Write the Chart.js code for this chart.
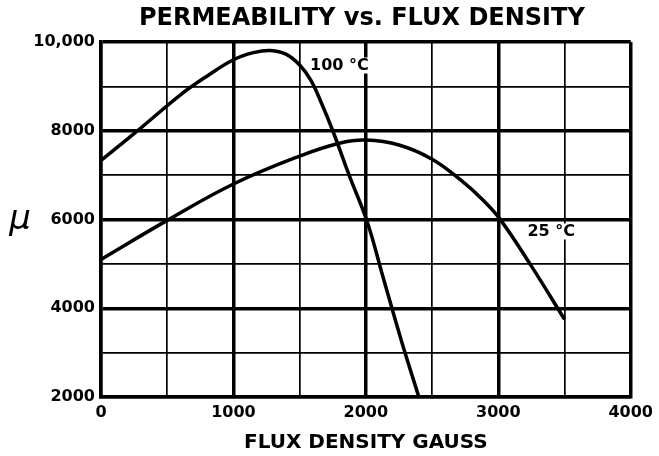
<!DOCTYPE html>
<html>
<head>
<meta charset="utf-8">
<script src="https://cdn.jsdelivr.net/npm/chart.js@4/dist/chart.umd.min.js"></script>
<style>
    html, body { margin: 0; padding: 0; background: #fff; }
</style>
</head>
<body>
<canvas id="mu-chart" width="659" height="456"></canvas>
<script>
// values (flux density in gauss, permeability)
const flux100 = [0, 300, 600, 800, 1000, 1150, 1280, 1400, 1500, 1584, 1665, 1750, 1880, 2010, 2130, 2270, 2400];
const mu100 = [7330, 8060, 8810, 9230, 9600, 9760, 9810, 9720, 9480, 9140, 8620, 8000, 6950, 5950, 4700, 3250, 2000];

const flux25 = [0, 500, 1000, 1500, 1800, 2000, 2250, 2500, 2720, 2880, 3010, 3250, 3500];
const mu25 = [5100, 5980, 6800, 7430, 7720, 7790, 7680, 7360, 6880, 6450, 6020, 4950, 3750];

const xTickValues = [0, 1000, 2000, 3000, 4000];
const xTickLabels = ['0', '1000', '2000', '3000', '4000'];
const yTickValues = [2000, 4000, 6000, 8000, 10000];
const yTickLabels = ['2000', '4000', '6000', '8000', '10,000'];

const curveNames = ['100 °C', '25 °C'];
const curveLabelFlux = [1800, 3400];
const curveLabelMu = [9470, 5730];

const chartTitle = 'PERMEABILITY vs. FLUX DENSITY';

function toPoints(xs, ys) {
    return xs.map((v, i) => ({ x: v, y: ys[i] }));
}

const annotations = {
    id: 'annotations',
    afterDatasetsDraw(chart) {
        const { ctx, chartArea, scales: { x, y } } = chart;
        ctx.save();
        ctx.fillStyle = '#000';
        ctx.textAlign = 'center';
        ctx.textBaseline = 'middle';

        ctx.font = 'bold 24px "DejaVu Sans"';
        ctx.fillText(chartTitle, (chartArea.left + chartArea.right) / 2 - 4, 19);

        ctx.font = 'italic 34px "DejaVu Sans"';
        ctx.fillText('μ', 20, 220);

        ctx.font = 'bold 16px "DejaVu Sans"';
        curveNames.forEach((t, i) => {
            const px = x.getPixelForValue(curveLabelFlux[i]);
            const py = y.getPixelForValue(curveLabelMu[i]);
            const w = ctx.measureText(t).width;
            ctx.fillStyle = '#fff';
            ctx.fillRect(px - w / 2 - 1, py - 8, w + 2, 16);
            ctx.fillStyle = '#000';
            ctx.fillText(t, px, py);
        });
        ctx.restore();
    }
};

const ctx = document.getElementById('mu-chart').getContext('2d');

new Chart(ctx, {
    type: 'line',
    data: {
        datasets: [{
            label: curveNames[0],
            data: toPoints(flux100, mu100),
            borderColor: '#000',
            borderWidth: 3.5,
            pointRadius: 0,
            tension: 0.4
        },
        {
            label: curveNames[1],
            data: toPoints(flux25, mu25),
            borderColor: '#000',
            borderWidth: 3.5,
            pointRadius: 0,
            tension: 0.4
        }]
    },
    options: {
        responsive: false,
        animation: false,
        layout: {
            padding: { left: 0, top: 42, right: 22, bottom: 0 }
        },
        plugins: {
            legend: { display: false },
            tooltip: { enabled: false }
        },
        scales: {
            x: {
                type: 'linear',
                min: 0,
                max: 4000,
                afterFit(scale) { scale.height = 59; },
                afterBuildTicks(scale) {
                    scale.ticks = [];
                    for (let v = 0; v <= 4000; v += 500) scale.ticks.push({ value: v });
                },
                border: { display: true, color: '#000', width: 3.5 },
                grid: {
                    color: '#000',
                    drawTicks: false,
                    lineWidth: (c) => (c.tick && c.tick.value % 1000 === 0 ? 3.5 : 1.7)
                },
                ticks: {
                    autoSkip: false,
                    maxRotation: 0,
                    padding: 6,
                    color: '#000',
                    font: { family: '"DejaVu Sans"', size: 16, weight: 'bold' },
                    callback: (v) => {
                        const i = xTickValues.indexOf(v);
                        return i < 0 ? '' : xTickLabels[i];
                    }
                },
                title: {
                    display: true,
                    text: 'FLUX DENSITY GAUSS',
                    color: '#000',
                    font: { family: '"DejaVu Sans"', size: 20, weight: 'bold' },
                    padding: { top: 0, bottom: 1 }
                }
            },
            y: {
                type: 'linear',
                min: 2000,
                max: 10000,
                afterFit(scale) { scale.width = 101; },
                afterBuildTicks(scale) {
                    scale.ticks = [];
                    for (let v = 2000; v <= 10000; v += 1000) scale.ticks.push({ value: v });
                },
                border: { display: true, color: '#000', width: 3.5 },
                grid: {
                    color: '#000',
                    drawTicks: false,
                    lineWidth: (c) => (c.tick && c.tick.value % 2000 === 0 ? 3.5 : 1.7)
                },
                ticks: {
                    autoSkip: false,
                    padding: 6,
                    color: '#000',
                    font: { family: '"DejaVu Sans"', size: 16, weight: 'bold' },
                    callback: (v) => {
                        const i = yTickValues.indexOf(v);
                        return i < 0 ? '' : yTickLabels[i];
                    }
                }
            }
        }
    },
    plugins: [annotations]
});
</script>
</body>
</html>
